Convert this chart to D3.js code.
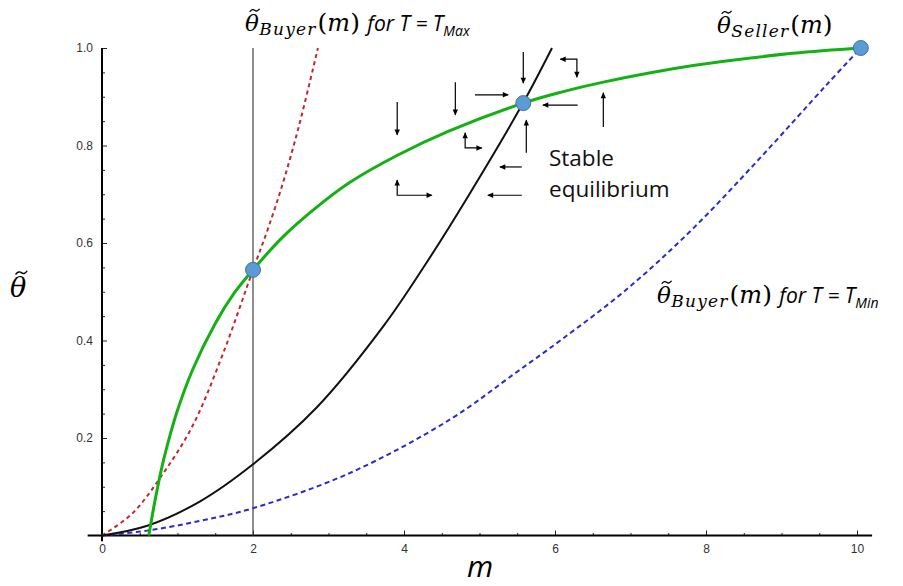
<!DOCTYPE html>
<html>
<head>
<meta charset="utf-8">
<script src="https://cdn.jsdelivr.net/npm/d3@7"></script>
<style>
  html, body { margin: 0; padding: 0; background: #fff; }
  svg { display: block; }
</style>
</head>
<body>
<svg id="chart" width="903" height="586"></svg>
<script>
// ---------- data ----------
const xTickValues = [0, 2, 4, 6, 8, 10];
const yTickValues = [0.2, 0.4, 0.6, 0.8, 1.0];
const yTickLabels = ["0.2", "0.4", "0.6", "0.8", "1.0"];

// Seller curve (green)
const sellerM = [0.62, 0.7, 0.8, 0.9, 1.0, 1.2, 1.5, 1.75, 2.0, 2.4, 2.84, 3.28, 3.9, 4.6, 5.58, 6.07, 6.64, 7.83, 9.15, 10.05];
const sellerT = [0.0, 0.07, 0.145, 0.205, 0.257, 0.34, 0.435, 0.497, 0.545, 0.613, 0.673, 0.724, 0.779, 0.830, 0.887, 0.909, 0.930, 0.964, 0.989, 1.0];

// Buyer curve for T = T_Max (red dashed)
const buyerMaxM = [0, 0.4, 0.8, 1.2, 1.6, 2.0, 2.2, 2.4, 2.6, 2.86];
const buyerMaxT = [0, 0.045, 0.125, 0.225, 0.372, 0.545, 0.63, 0.725, 0.835, 1.0];

// Intermediate buyer curve (black)
const buyerMidM = [0, 0.6, 1.3, 2.0, 2.84, 3.73, 4.3, 4.85, 5.58, 5.96];
const buyerMidT = [0, 0.02, 0.07, 0.146, 0.262, 0.43, 0.56, 0.696, 0.888, 1.0];

// Buyer curve for T = T_Min (blue dashed)
const buyerMinM = [0, 0.6, 1.3, 2.0, 3.28, 4.61, 5.49, 6.07, 6.95, 7.83, 8.72, 9.6, 10.05];
const buyerMinT = [0, 0.01, 0.03, 0.056, 0.128, 0.238, 0.335, 0.400, 0.505, 0.630, 0.775, 0.925, 1.0];

// Highlighted points
const pointM = [2.0, 5.58, 10.05];
const pointT = [0.545, 0.887, 1.0];

// Vertical reference line at m = 2
const vLineM = 2.0;

// Phase arrows (data coordinates: list of [m, theta] vertices)
const arrowPaths = [
  [[3.91, 0.889], [3.91, 0.822]],
  [[4.68, 0.930], [4.68, 0.863]],
  [[4.94, 0.904], [5.38, 0.904]],
  [[5.58, 0.992], [5.58, 0.928]],
  [[6.07, 0.977], [6.29, 0.977], [6.29, 0.940]],
  [[6.30, 0.883], [5.84, 0.883]],
  [[6.64, 0.838], [6.64, 0.908]],
  [[5.62, 0.785], [5.62, 0.852]],
  [[4.81, 0.826], [4.81, 0.795], [5.03, 0.795]],
  [[5.56, 0.756], [5.27, 0.756]],
  [[5.56, 0.698], [5.11, 0.698]],
  [[3.91, 0.729], [3.91, 0.698], [4.37, 0.698]]
];
const arrowHeadStart = [false, false, false, false, true, false, false, false, true, false, false, true];

// ---------- chart ----------
const svg = d3.select("#chart");
svg.append("rect").attr("width", 903).attr("height", 586).attr("fill", "#fff");

const x = d3.scaleLinear().domain([0, 10]).range([102, 857]);
const y = d3.scaleLinear().domain([0, 1]).range([535.5, 48]);

const zip = (a, b) => a.map((v, i) => [v, b[i]]);
const line = d3.line().x(d => x(d[0])).y(d => y(d[1])).curve(d3.curveCatmullRom.alpha(0.5));

// Axes
const gx = svg.append("g").attr("transform", `translate(0,${y(0)})`);
gx.call(d3.axisBottom(x).tickValues(xTickValues).tickSizeInner(-5).tickSizeOuter(0).tickPadding(9).tickFormat(d3.format("d")));
const gxMinor = svg.append("g").attr("transform", `translate(0,${y(0)})`);
gxMinor.call(d3.axisBottom(x).tickValues(d3.range(0.5, 10.01, 0.5).filter(v => v % 2 !== 0)).tickSizeInner(-2.5).tickSizeOuter(0).tickFormat(""));

const gy = svg.append("g").attr("transform", `translate(${x(0)},0)`);
gy.call(d3.axisLeft(y).tickValues(yTickValues).tickSizeInner(-5).tickSizeOuter(0).tickPadding(9).tickFormat((d, i) => yTickLabels[i]));
const gyMinor = svg.append("g").attr("transform", `translate(${x(0)},0)`);
gyMinor.call(d3.axisLeft(y).tickValues(d3.range(0.05, 1.0, 0.05).filter(v => Math.abs(v * 5 - Math.round(v * 5)) > 1e-6)).tickSizeInner(-3).tickSizeOuter(0).tickFormat(""));

[gx, gxMinor, gy, gyMinor].forEach(g => {
  g.select(".domain").remove();
  g.selectAll(".tick line").attr("stroke", "#222").attr("stroke-width", 1);
  g.selectAll(".tick text").attr("fill", "#333").style("font-family", "'Liberation Sans', Arial, sans-serif").style("font-size", "12px");
});

// axis lines
svg.append("line").attr("x1", x(-0.19)).attr("x2", x(10.2)).attr("y1", y(0)).attr("y2", y(0))
  .attr("stroke", "#000").attr("stroke-width", 2);
svg.append("line").attr("x1", x(0)).attr("x2", x(0)).attr("y1", y(1.0)).attr("y2", y(-0.012))
  .attr("stroke", "#000").attr("stroke-width", 2);

// vertical reference line
svg.append("line").attr("x1", x(vLineM)).attr("x2", x(vLineM)).attr("y1", y(1.0)).attr("y2", y(0))
  .attr("stroke", "#444").attr("stroke-width", 1.2);

// curves
svg.append("path").datum(zip(buyerMinM, buyerMinT)).attr("d", line)
  .attr("fill", "none").attr("stroke", "#2b2bc8").attr("stroke-width", 2).attr("stroke-dasharray", "5,3.5");
svg.append("path").datum(zip(buyerMaxM, buyerMaxT)).attr("d", line)
  .attr("fill", "none").attr("stroke", "#c0282c").attr("stroke-width", 2).attr("stroke-dasharray", "4,3.5");
svg.append("path").datum(zip(buyerMidM, buyerMidT)).attr("d", line)
  .attr("fill", "none").attr("stroke", "#111").attr("stroke-width", 2);
svg.append("path").datum(zip(sellerM, sellerT)).attr("d", line)
  .attr("fill", "none").attr("stroke", "#14b014").attr("stroke-width", 3);

// arrows
const defs = svg.append("defs");
defs.append("marker").attr("id", "head").attr("viewBox", "0 0 10 10")
  .attr("refX", 9).attr("refY", 5).attr("markerUnits", "userSpaceOnUse")
  .attr("markerWidth", 7).attr("markerHeight", 6).attr("orient", "auto-start-reverse")
  .append("path").attr("d", "M0,0.5 L10,5 L0,9.5 z").attr("fill", "#000");

const arrowLine = d3.line().x(d => x(d[0])).y(d => y(d[1]));
svg.append("g").selectAll("path").data(arrowPaths).join("path")
  .attr("d", arrowLine)
  .attr("fill", "none").attr("stroke", "#000").attr("stroke-width", 1.2)
  .attr("marker-end", "url(#head)")
  .attr("marker-start", (d, i) => arrowHeadStart[i] ? "url(#head)" : null);

// points
svg.append("g").selectAll("circle").data(zip(pointM, pointT)).join("circle")
  .attr("cx", d => x(d[0])).attr("cy", d => y(d[1])).attr("r", 7.5)
  .attr("fill", "#5b9bd5").attr("stroke", "#41719c").attr("stroke-width", 1);

// ---------- text ----------
const serif = "'DejaVu Serif', 'Liberation Serif', serif";
const sans = "'Open Sans', 'Noto Sans', sans-serif";

// theta with a tilde (drawn as a small path) above it
function thetaTilde(xp, yp, size) {
  const th = svg.append("text").attr("x", xp).attr("y", yp).text("θ")
    .style("font-family", serif).style("font-style", "italic").style("font-size", size + "px").attr("fill", "#000");
  const w = th.node().getComputedTextLength();
  const cx = xp + w / 2 + size * 0.12, cy = yp - size * 0.9;
  const tw = size * 0.4, a = size * 0.05;
  const x0 = cx - tw / 2;
  svg.append("path")
    .attr("d", `M${x0},${cy + a} Q${x0 + tw * 0.25},${cy - 1.6 * a} ${x0 + tw * 0.5},${cy} T${x0 + tw},${cy - a}`)
    .attr("fill", "none").attr("stroke", "#000").attr("stroke-width", size * 0.055).attr("stroke-linecap", "round");
  return w;
}

function mathLabel(xp, yp, sub, tail, tailSub) {
  const w = thetaTilde(xp, yp, 23);
  const t = svg.append("text").attr("x", xp + w + 0.5).attr("y", yp).attr("fill", "#000");
  t.append("tspan").text(sub).attr("dy", 4).style("font-family", serif).style("font-style", "italic")
    .style("font-size", "17px").style("letter-spacing", "1.2px");
  t.append("tspan").text("(").attr("dy", -4).attr("dx", 1).style("font-family", serif).style("font-size", "25px");
  t.append("tspan").text("m").style("font-family", serif).style("font-style", "italic").style("font-size", "24px");
  t.append("tspan").text(")").style("font-family", serif).style("font-size", "25px");
  if (tail) {
    t.append("tspan").text("\u00a0for T = T").attr("dx", 2).style("font-family", sans).style("font-style", "italic").style("font-size", "21px");
    t.append("tspan").text(tailSub).attr("dy", 5).style("font-family", sans).style("font-style", "italic").style("font-size", "14px");
  }
  return t;
}

mathLabel(245, 31, "Buyer", "for T = T", "Max");
mathLabel(717, 33, "Seller", null, null);
mathLabel(657, 303, "Buyer", "for T = T", "Min");

svg.append("text").attr("x", 549).attr("y", 166).text("Stable")
  .style("font-family", sans).style("font-size", "22.5px").attr("fill", "#111");
svg.append("text").attr("x", 549).attr("y", 197).text("equilibrium")
  .style("font-family", sans).style("font-size", "22.5px").attr("fill", "#111");

// axis titles
thetaTilde(10, 297, 27);
svg.append("text").attr("x", 467).attr("y", 577).text("m")
  .style("font-family", sans).style("font-style", "italic").style("font-size", "30px").attr("fill", "#000");
</script>
</body>
</html>
